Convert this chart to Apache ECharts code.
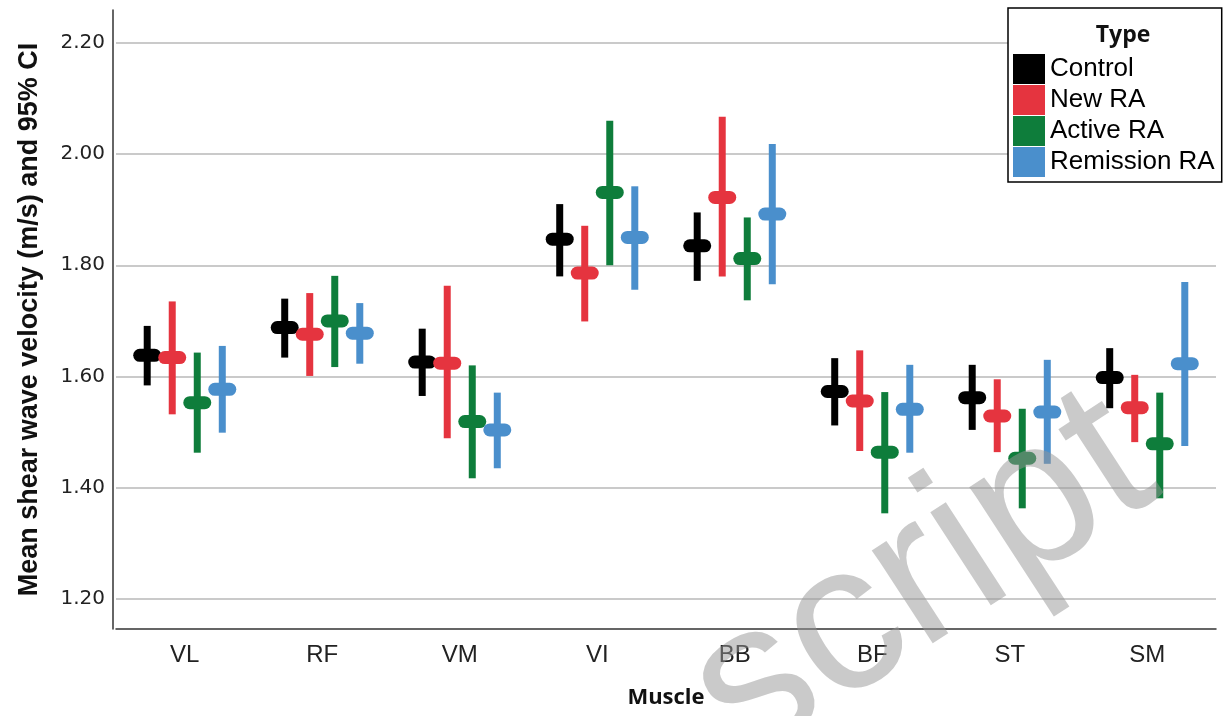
<!DOCTYPE html>
<html>
<head>
<meta charset="utf-8">
<script src="https://cdn.jsdelivr.net/npm/echarts@6/dist/echarts.min.js"></script>
<style>html,body{margin:0;padding:0;background:#fff;}#c{width:1223px;height:716px;}</style>
</head>
<body>
<div id="c"></div>
<script>
// ---- data ----
var muscles = ['VL', 'RF', 'VM', 'VI', 'BB', 'BF', 'ST', 'SM'];
var types = ['Control', 'New RA', 'Active RA', 'Remission RA'];
var yTicks = [1.20, 1.40, 1.60, 1.80, 2.00, 2.20];

var controlMean = [1.638, 1.688, 1.626, 1.847, 1.835, 1.573, 1.562, 1.598];
var controlLow  = [1.584, 1.634, 1.565, 1.780, 1.772, 1.512, 1.504, 1.543];
var controlHigh = [1.691, 1.740, 1.686, 1.910, 1.895, 1.633, 1.621, 1.651];

var newMean = [1.634, 1.676, 1.624, 1.786, 1.922, 1.556, 1.529, 1.544];
var newLow  = [1.532, 1.601, 1.489, 1.699, 1.780, 1.466, 1.464, 1.482];
var newHigh = [1.735, 1.750, 1.763, 1.871, 2.067, 1.647, 1.595, 1.603];

var activeMean = [1.553, 1.700, 1.519, 1.931, 1.812, 1.464, 1.453, 1.479];
var activeLow  = [1.463, 1.617, 1.417, 1.800, 1.737, 1.354, 1.363, 1.381];
var activeHigh = [1.643, 1.781, 1.620, 2.060, 1.886, 1.572, 1.542, 1.571];

var remissionMean = [1.577, 1.678, 1.504, 1.850, 1.892, 1.541, 1.536, 1.623];
var remissionLow  = [1.499, 1.623, 1.435, 1.756, 1.766, 1.463, 1.443, 1.475];
var remissionHigh = [1.655, 1.732, 1.571, 1.942, 2.018, 1.621, 1.630, 1.770];

var colors = ['#000000', '#e5343f', '#0e7d3b', '#4a8fcc'];

// ---- build ----
var groups = [
  [controlLow, controlMean, controlHigh],
  [newLow, newMean, newHigh],
  [activeLow, activeMean, activeHigh],
  [remissionLow, remissionMean, remissionHigh]
];

function makeRender(idx) {
  return function (params, api) {
    var cat = api.value(0);
    var lo = api.coord([cat, api.value(1)]);
    var mid = api.coord([cat, api.value(2)]);
    var hi = api.coord([cat, api.value(3)]);
    var bw = api.size([1, 0])[0];
    var x = mid[0] + (idx - 1.5) * 0.182 * bw;
    var col = api.visual('color');
    return {
      type: 'group',
      children: [
        { type: 'rect', shape: { x: x - 3.5, y: hi[1], width: 7, height: lo[1] - hi[1] }, style: { fill: col } },
        { type: 'rect', shape: { x: x - 14, y: mid[1] - 6.5, width: 28, height: 13, r: 6.5 }, style: { fill: col } }
      ]
    };
  };
}

var series = groups.map(function (g, i) {
  return {
    name: types[i],
    type: 'custom',
    renderItem: makeRender(i),
    itemStyle: { color: colors[i] },
    encode: { x: 0, y: [1, 2, 3] },
    data: muscles.map(function (m, k) { return [k, g[0][k], g[1][k], g[2][k]]; }),
    z: 3
  };
});

var chart = echarts.init(document.getElementById('c'), null, { renderer: 'canvas' });
chart.setOption({
  animation: false,
  backgroundColor: '#ffffff',
  title: {
    text: 'Type', left: 1118, top: 19, textAlign: 'center',
    textStyle: { fontFamily: 'Open Sans', fontWeight: 'bold', fontSize: 23, color: '#111' },
    z: 10
  },
  legend: {
    data: types,
    orient: 'vertical',
    left: 1008, top: 8,
    padding: [46, 7, 5, 5],
    itemWidth: 32, itemHeight: 30, itemGap: 1,
    icon: 'rect',
    borderColor: '#000', borderWidth: 1.5,
    backgroundColor: '#fff',
    textStyle: { fontFamily: 'Liberation Sans', fontSize: 26, color: '#000', lineHeight: 30 },
    z: 5
  },
  grid: { left: 116, right: 7, top: 10, bottom: 87, containLabel: false },
  xAxis: {
    type: 'category',
    data: muscles,
    name: 'Muscle',
    nameLocation: 'middle',
    nameGap: 58,
    nameTextStyle: { fontFamily: 'Open Sans', fontWeight: 'bold', fontSize: 22, color: '#111' },
    axisLine: { lineStyle: { color: '#333', width: 1.5 } },
    axisTick: { show: false },
    axisLabel: { fontFamily: 'Liberation Sans', fontSize: 24, color: '#222', margin: 14 },
    splitLine: { show: false }
  },
  yAxis: {
    type: 'value',
    min: 1.146, max: 2.259,
    offset: 3,
    name: 'Mean shear wave velocity (m/s) and 95% CI',
    nameLocation: 'middle',
    nameGap: 70,
    nameTextStyle: { fontFamily: 'Liberation Sans', fontWeight: 'bold', fontSize: 27, color: '#111' },
    axisLine: { show: true, lineStyle: { color: '#333', width: 1.5 } },
    axisTick: { show: false, customValues: yTicks },
    axisLabel: {
      customValues: yTicks,
      fontFamily: 'DejaVu Sans', fontSize: 20, color: '#222', margin: 8,
      formatter: function (v) { return v.toFixed(2); }
    },
    splitLine: { show: true, lineStyle: { color: '#b8b8b8', width: 1.5 } }
  },
  series: series,
  graphic: [{
    type: 'text',
    x: 770, y: 805,
    rotation: 33 * Math.PI / 180,
    style: { text: 'script', font: '210px "Liberation Sans"', fill: 'rgba(150,150,150,0.5)', textVerticalAlign: 'bottom' },
    z: 100, silent: true
  }]
});
</script>
</body>
</html>
